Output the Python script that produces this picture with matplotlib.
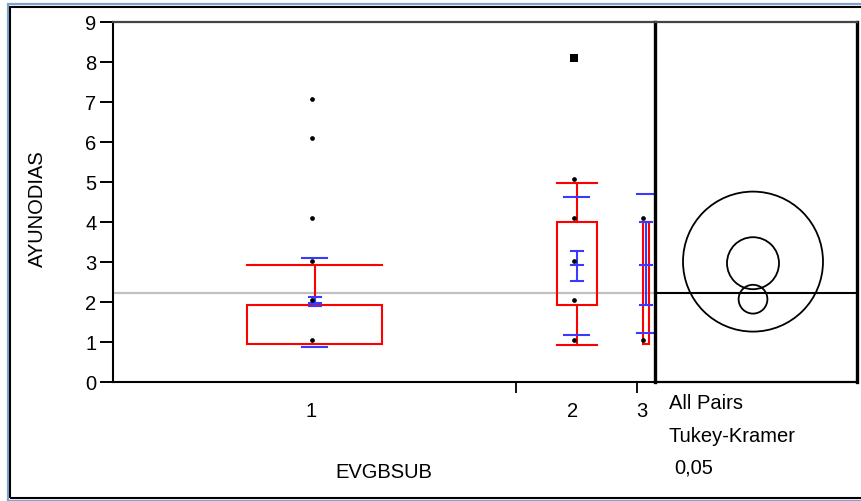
import matplotlib
matplotlib.use("Agg")
import matplotlib.pyplot as plt
from matplotlib.patches import Rectangle, Circle
import numpy as np

plt.rcParams['font.family'] = ['Liberation Sans', 'DejaVu Sans']

# ---- data ----
groups = ["1", "2", "3"]
group_n = [67, 20, 3]
points = [
    [1.04, 2.05, 3.03, 4.09, 6.09, 7.07],
    [1.04, 2.05, 3.03, 4.09, 5.08],
    [1.04, 4.09],
]
big_points = [[], [8.09], []]
q1 = [0.94, 1.93, 0.94]
q3 = [1.93, 3.99, 4.00]
whisk_lo = [0.94, 0.93, 0.94]
whisk_hi = [2.93, 4.98, 4.00]
means = [1.97, 2.93, 2.93]
ci_lo = [1.89, 2.53, 1.93]
ci_hi = [2.13, 3.28, 3.99]
sd_lo = [0.88, 1.18, 1.23]
sd_hi = [3.09, 4.63, 4.69]
grand_mean = 2.23
circle_center = [2.07, 2.97, 3.01]
circle_radius = [0.36, 0.65, 1.75]
y_ticks = list(range(0, 10))

W, H = 862, 502
fig = plt.figure(figsize=(W / 100, H / 100), dpi=100)

def fr(x0, y0, x1, y1):
    return [x0 / W, 1 - y1 / H, (x1 - x0) / W, (y1 - y0) / H]

# outer frame
fig.add_artist(Rectangle((8 / W, 0), 1, 1 - 4.5 / H, transform=fig.transFigure,
                         fill=False, edgecolor="#7fa3d0", lw=1.6))
fig.add_artist(Rectangle((10.5 / W, 1 - 498.5 / H), 1, (498.5 - 7.5) / H,
                         transform=fig.transFigure, fill=False,
                         edgecolor="black", lw=1.5))

ax = fig.add_axes(fr(113, 23, 655, 383))
total = sum(group_n)
ax.set_xlim(0, total)
ax.set_ylim(0, 9)
px = total / (655 - 113)  # data units per pixel

red = "#ff0000"
blue = "#3a3aff"
edges = np.concatenate([[0], np.cumsum(group_n)])
centers = (edges[:-1] + edges[1:]) / 2

ax.axhline(grand_mean, color="#c0c0c0", lw=1.6, zorder=1)

for i, n in enumerate(group_n):
    c = centers[i]
    bw = n / 3
    # box
    ax.add_patch(Rectangle((c - bw / 2, q1[i]), bw, q3[i] - q1[i], fill=False,
                           edgecolor=red, lw=1.5, zorder=3))
    # whiskers
    if whisk_hi[i] > q3[i]:
        ax.plot([c, c], [q3[i], whisk_hi[i]], color=red, lw=1.5, zorder=3)
        ax.plot([c - bw / 2, c + bw / 2], [whisk_hi[i]] * 2, color=red, lw=1.5, zorder=3)
    if whisk_lo[i] < q1[i]:
        ax.plot([c, c], [whisk_lo[i], q1[i]], color=red, lw=1.5, zorder=3)
        ax.plot([c - bw / 2, c + bw / 2], [whisk_lo[i]] * 2, color=red, lw=1.5, zorder=3)
    # std dev lines
    sw = min(25 * px, n)
    for v in (sd_lo[i], sd_hi[i]):
        ax.plot([c - sw / 2, c + sw / 2], [v, v], color=blue, lw=1.5, zorder=4)
    # mean error bars
    cw = 12 * px
    ax.plot([c, c], [ci_lo[i], ci_hi[i]], color=blue, lw=1.5, zorder=4)
    for v in (ci_lo[i], means[i], ci_hi[i]):
        ax.plot([c - cw / 2, c + cw / 2], [v, v], color=blue, lw=1.5, zorder=4)
    # points
    xs = [c - 3 * px] * len(points[i])
    ax.plot(xs, points[i], 'o', color="black", ms=3.4, mew=0, zorder=6)
    if big_points[i]:
        ax.plot([c - 3 * px] * len(big_points[i]), big_points[i], 's',
                color="black", ms=5.8, mew=0, zorder=6)

FS = 14.5
# axes styling
ax.set_yticks(y_ticks)
ax.set_yticklabels([str(t) for t in y_ticks], fontsize=FS)
ax.tick_params(axis='y', length=9.4, width=1.4, pad=2.5, color="black")
ax.set_xticks(edges[1:-1])
ax.set_xticklabels([])
ax.tick_params(axis='x', which='major', length=8, width=1.3, direction='out')
ax.set_xticks(centers - 4 * px, minor=True)
ax.set_xticklabels(groups, minor=True, fontsize=FS)
ax.tick_params(axis='x', which='minor', length=0, pad=14)
for s in ("left", "bottom"):
    ax.spines[s].set_linewidth(1.5)
    ax.spines[s].set_color("black")
ax.spines["top"].set_linewidth(1.6)
ax.spines["top"].set_color("#444444")
ax.spines["right"].set_visible(False)

fig.text(37 / W, 1 - 209 / H, "AYUNODIAS", rotation=90, fontsize=FS,
         ha="center", va="center")
fig.text(384 / W, 1 - 472 / H, "EVGBSUB", fontsize=FS, ha="center", va="center")

# comparison circles panel
cax = fig.add_axes(fr(655, 23, 857, 383))
cax.set_ylim(0, 9)
cax.set_xlim(0, 202 / 40)
cax.set_xticks([])
cax.set_yticks([])
for s in ("left", "right"):
    cax.spines[s].set_linewidth(2.4)
for s in ("top", "bottom"):
    cax.spines[s].set_linewidth(1.6)
cax.spines["top"].set_color("#444444")
cax.axhline(grand_mean, color="black", lw=1.5)
cx = (753 - 655) / 40
for yc, r in zip(circle_center, circle_radius):
    cax.add_patch(Circle((cx, yc), r, fill=False, edgecolor="black", lw=1.3))

fig.text(669 / W, 1 - 404 / H, "All Pairs", fontsize=FS, ha="left", va="center")
fig.text(669 / W, 1 - 437 / H, "Tukey-Kramer", fontsize=FS, ha="left", va="center")
fig.text(674 / W, 1 - 468 / H, "0,05", fontsize=FS, ha="left", va="center")

fig.savefig("out.png", dpi=100)
